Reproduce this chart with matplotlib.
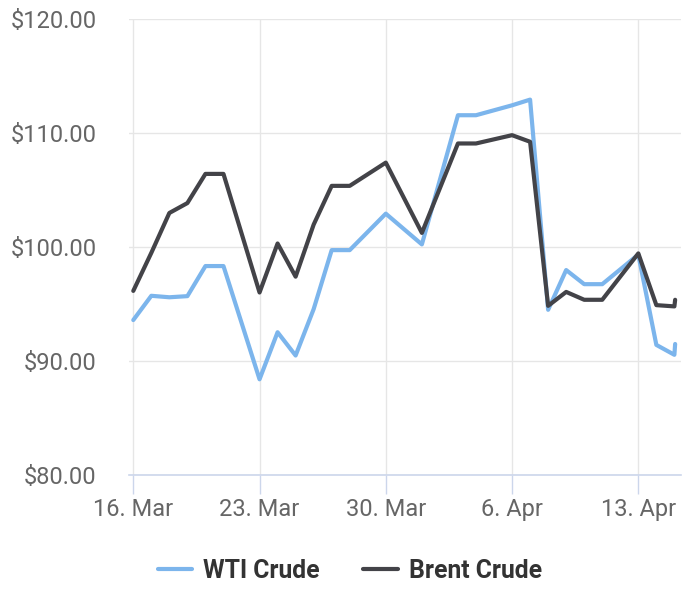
import matplotlib
matplotlib.use("Agg")
import matplotlib.pyplot as plt
import pandas as pd

dates = ["2026-03-16 00:00", "2026-03-17 00:00", "2026-03-18 00:00", "2026-03-19 00:00",
         "2026-03-20 00:00", "2026-03-21 00:00",
         "2026-03-23 00:00", "2026-03-24 00:00", "2026-03-25 00:00", "2026-03-26 00:00",
         "2026-03-27 00:00", "2026-03-28 00:00",
         "2026-03-30 00:00", "2026-04-01 00:00", "2026-04-03 00:00", "2026-04-04 00:00",
         "2026-04-06 00:00", "2026-04-07 00:00", "2026-04-08 00:00", "2026-04-09 00:00",
         "2026-04-10 00:00", "2026-04-11 00:00",
         "2026-04-13 00:00", "2026-04-14 00:00", "2026-04-15 00:00", "2026-04-15 01:00"]
wti = [93.6, 95.73, 95.6, 95.7, 98.34, 98.34,
       88.4, 92.53, 90.49, 94.56, 99.74, 99.74,
       102.94, 100.24, 111.58, 111.58,
       112.45, 112.95, 94.5, 97.99, 96.75, 96.75,
       99.35, 91.42, 90.55, 91.5]
brent = [96.16, 99.5, 103.0, 103.87, 106.43, 106.43,
         96.02, 100.32, 97.41, 101.98, 105.38, 105.38,
         107.42, 101.25, 109.1, 109.1,
         109.83, 109.25, 94.85, 96.07, 95.38, 95.38,
         99.45, 94.91, 94.8, 95.38]
series_names = ["WTI Crude", "Brent Crude"]
series_colors = ["#7cb5ec", "#434348"]
y_ticks = [80, 90, 100, 110, 120]
y_labels = ["$80.00", "$90.00", "$100.00", "$110.00", "$120.00"]
x_ticks = ["2026-03-16", "2026-03-23", "2026-03-30", "2026-04-06", "2026-04-13"]
x_labels = ["16. Mar", "23. Mar", "30. Mar", "6. Apr", "13. Apr"]

plt.rcParams["font.family"] = ["Roboto", "DejaVu Sans"]

x = pd.to_datetime(dates, format="%Y-%m-%d %H:%M")
fig = plt.figure(figsize=(7, 5.95), dpi=100)
left, right, top, bottom = 129.3, 680.7, 19.3, 475.0
ax = fig.add_axes([left / 700, 1 - bottom / 595, (right - left) / 700, (bottom - top) / 595])

for vals, name, col in zip([wti, brent], series_names, series_colors):
    ax.plot(x, vals, color=col, lw=3, label=name, solid_joinstyle="round",
            solid_capstyle="round", zorder=3)

ax.set_ylim(80, 120)
ax.set_xlim(pd.Timestamp("2026-03-16") - pd.Timedelta(hours=5.3),
            pd.Timestamp("2026-04-15") + pd.Timedelta(hours=8.4))
ax.set_yticks(y_ticks)
ax.set_yticklabels(y_labels)
ax.set_xticks(pd.to_datetime(x_ticks))
ax.set_xticklabels(x_labels)

ax.grid(True, color="#e6e6e6", lw=1, zorder=0)
for s in ["top", "right", "left"]:
    ax.spines[s].set_visible(False)
ax.spines["bottom"].set_color("#ccd6eb")
ax.spines["bottom"].set_linewidth(1.2)
ax.tick_params(axis="y", length=0, pad=23.5, labelsize=17, labelcolor="#666666")
ax.tick_params(axis="x", length=13.7, width=1, color="#ccd6eb", pad=3,
               labelsize=17, labelcolor="#666666")

leg = fig.legend(loc="center", bbox_to_anchor=(0.5, 1 - 571 / 595), ncol=2,
                 frameon=False, handlelength=1.4, columnspacing=1.75, handletextpad=0.45,
                 prop={"weight": "bold", "size": 17.8})
for t in leg.get_texts():
    t.set_color("#333333")

fig.savefig("out.png", dpi=100)
